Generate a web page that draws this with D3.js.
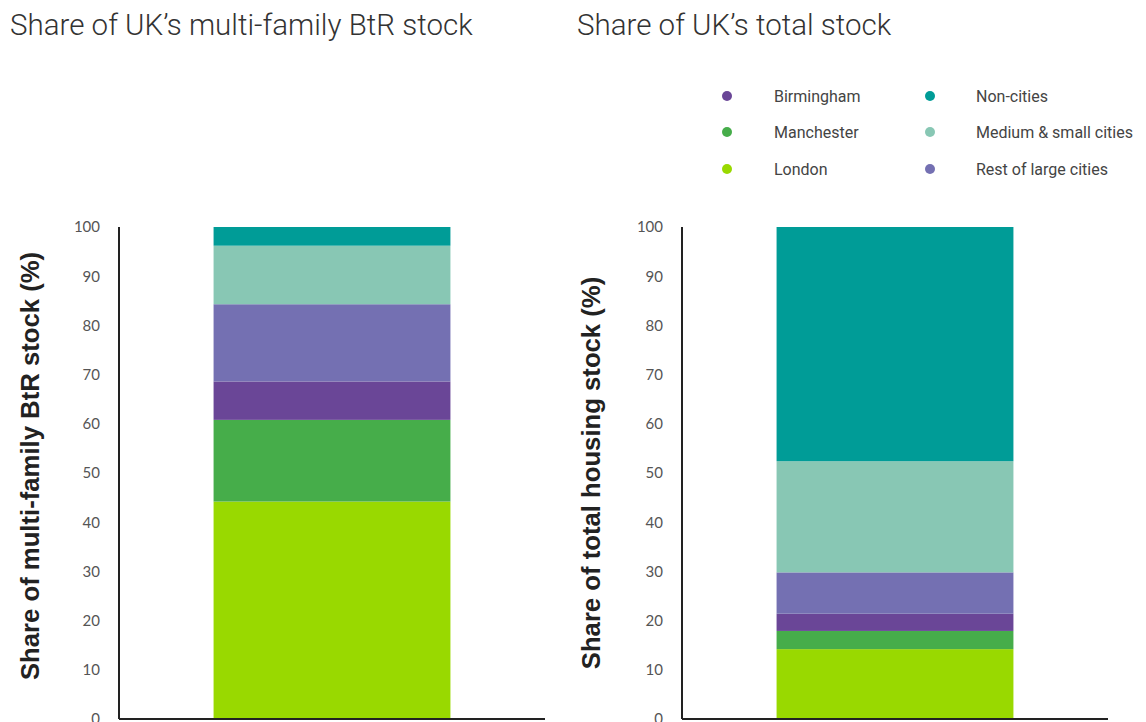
<!DOCTYPE html>
<html>
<head>
<meta charset="utf-8">
<script src="https://cdn.jsdelivr.net/npm/d3@7"></script>
<style>
  body { margin: 0; background: #fff; }
  svg { display: block; }
  .title { font-family: Roboto, sans-serif; font-weight: 300; font-size: 29.5px; fill: #333; }
  .ytitle { font-family: "Liberation Sans", Arial, sans-serif; font-weight: bold; font-size: 25.7px; fill: #222; }
  .axis text { font-family: Lato, sans-serif; font-size: 15px; fill: #555; }
  .legend text { font-family: Roboto, sans-serif; font-size: 16px; fill: #444; }
</style>
</head>
<body>
<svg id="chart" width="1146" height="722"></svg>
<script>
// series, bottom to top
var seriesKeys = ["London", "Manchester", "Birmingham", "Rest of large cities", "Medium & small cities", "Non-cities"];
var seriesColors = ["#99d900", "#46ad4a", "#6a4697", "#7470b2", "#88c7b4", "#009c97"];

// values (%)
var btrShare = [44.2, 16.6, 7.8, 15.7, 11.9, 3.8];
var totalShare = [14.2, 3.7, 3.5, 8.4, 22.6, 47.6];

var yTicks = [0, 10, 20, 30, 40, 50, 60, 70, 80, 90, 100];

// legend layout: two columns of three
var legendCol1 = ["Birmingham", "Manchester", "London"];
var legendCol2 = ["Non-cities", "Medium & small cities", "Rest of large cities"];

var svg = d3.select("#chart");
var color = d3.scaleOrdinal().domain(seriesKeys).range(seriesColors);

var y = d3.scaleLinear().domain([0, 100]).range([719, 227]);

function drawPanel(opts) {
    var values = opts.values;
    var row = {name: "all"};
    seriesKeys.forEach(function(k, i) { row[k] = values[i]; });

    var x = d3.scaleBand()
        .domain(["all"])
        .range([opts.left, opts.left + 426])
        .paddingInner(0.444)
        .paddingOuter(0.222);

    var stacked = d3.stack().keys(seriesKeys)([row]);

    var g = svg.append("g");

    g.selectAll("rect")
        .data(stacked)
        .enter().append("rect")
        .attr("x", function(d) { return x(d[0].data.name); })
        .attr("width", x.bandwidth())
        .attr("y", function(d) { return y(d[0][1]); })
        .attr("height", function(d) { return y(d[0][0]) - y(d[0][1]); })
        .attr("fill", function(d) { return color(d.key); });

    // y axis: labels only, then the line
    var ya = g.append("g")
        .attr("class", "axis")
        .attr("transform", "translate(" + opts.left + ",0)")
        .call(d3.axisLeft(y).tickValues(yTicks).tickSize(0).tickPadding(19));
    ya.select(".domain").remove();

    g.append("line")
        .attr("x1", opts.left).attr("x2", opts.left)
        .attr("y1", y(100)).attr("y2", y(0))
        .attr("stroke", "#222").attr("stroke-width", 2);
    g.append("line")
        .attr("x1", opts.left).attr("x2", opts.left + 426)
        .attr("y1", y(0)).attr("y2", y(0))
        .attr("stroke", "#222").attr("stroke-width", 2);

    g.append("text")
        .attr("class", "ytitle")
        .attr("transform", "translate(" + opts.yTitleX + "," + opts.yTitleY + ") rotate(-90)")
        .attr("text-anchor", "middle")
        .attr("dy", "0.35em")
        .text(opts.yTitle);

    svg.append("text")
        .attr("class", "title")
        .attr("x", opts.titleX)
        .attr("y", 35)
        .text(opts.title);
}

drawPanel({
    values: btrShare,
    left: 119,
    title: "Share of UK\u2019s multi-family BtR stock",
    titleX: 10,
    yTitle: "Share of multi-family BtR stock (%)",
    yTitleX: 30,
    yTitleY: 466
});

drawPanel({
    values: totalShare,
    left: 682,
    title: "Share of UK\u2019s total stock",
    titleX: 577,
    yTitle: "Share of total housing stock (%)",
    yTitleX: 591,
    yTitleY: 473
});

// legend
var legend = svg.append("g").attr("class", "legend");
var legendRows = [96, 132, 169];
[[legendCol1, 727, 774], [legendCol2, 930, 976]].forEach(function(col) {
    var items = legend.selectAll(null)
        .data(col[0])
        .enter().append("g")
        .attr("transform", function(d, i) { return "translate(0," + legendRows[i] + ")"; });
    items.append("circle")
        .attr("cx", col[1]).attr("cy", 0).attr("r", 5)
        .attr("fill", function(d) { return color(d); });
    items.append("text")
        .attr("x", col[2]).attr("dy", "0.35em")
        .text(function(d) { return d; });
});
</script>
</body>
</html>
